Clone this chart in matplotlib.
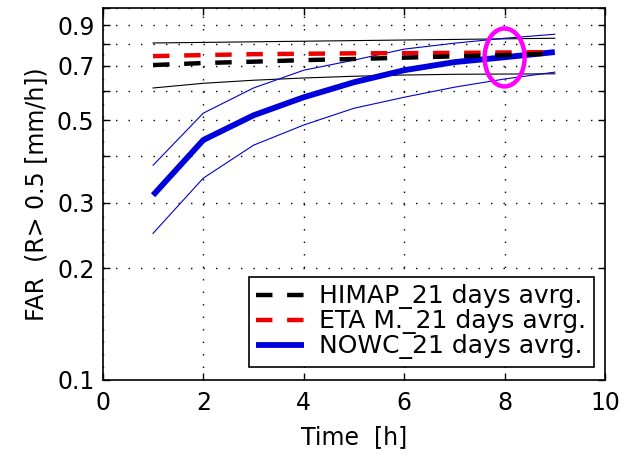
"""FAR vs lead time, log-scale y, MATLAB-like styling."""

import matplotlib.pyplot as plt
import matplotlib.transforms as mtransforms
from matplotlib.patches import Ellipse
from matplotlib.ticker import FixedLocator, NullLocator

plt.rcParams.update({
    "font.family": ["DejaVu Sans"],
    "figure.facecolor": "white",
    "axes.facecolor": "white",
    "axes.edgecolor": "black",
    "text.color": "black",
    "xtick.color": "black",
    "ytick.color": "black",
})

# ---------------------------------------------------------------------------
# Data
# ---------------------------------------------------------------------------
hours = [1, 2, 3, 4, 5, 6, 7, 8, 9]

himap_avg = [0.703, 0.712, 0.718, 0.725, 0.730, 0.736, 0.742, 0.748, 0.755]
himap_upper = [0.806, 0.809, 0.812, 0.815, 0.818, 0.821, 0.824, 0.827, 0.830]
himap_lower = [0.610, 0.628, 0.640, 0.649, 0.656, 0.661, 0.664, 0.665, 0.666]

eta_avg = [0.743, 0.748, 0.752, 0.754, 0.756, 0.757, 0.758, 0.760, 0.762]

nowc_avg = [0.314, 0.442, 0.515, 0.576, 0.632, 0.681, 0.716, 0.738, 0.762]
nowc_upper = [0.378, 0.522, 0.610, 0.681, 0.725, 0.776, 0.805, 0.830, 0.851]
nowc_lower = [0.248, 0.349, 0.428, 0.485, 0.538, 0.576, 0.613, 0.645, 0.673]

y_ticks = [0.1, 0.2, 0.3, 0.4, 0.5, 0.6, 0.7, 0.8, 0.9, 1.0]
y_tick_labels = ["0.1", "0.2", "0.3", "", "0.5", "", "0.7", "", "0.9", ""]
x_ticks = [0, 2, 4, 6, 8, 10]

# highlighted point (magenta ring)
mark_x, mark_y = 8.0, 0.737

# ---------------------------------------------------------------------------
fig = plt.figure(figsize=(6.27, 4.54), dpi=100)
ax = fig.add_axes([0.164, 0.163, 0.801, 0.819])
ax.set_yscale("log")

# spread lines
ax.plot(hours, himap_upper, color="black", lw=0.8)
ax.plot(hours, himap_lower, color="black", lw=0.8)
ax.plot(hours, nowc_upper, color="#0000cc", lw=0.8)
ax.plot(hours, nowc_lower, color="#0000cc", lw=0.8)

# averages
ax.plot(hours, nowc_avg, color="#0000dd", lw=4.2, solid_capstyle="butt",
        label="NOWC_21 days avrg.")
ax.plot(hours, eta_avg, color="#ee0000", lw=3.2, dashes=(3.7, 3.3),
        label="ETA M._21 days avrg.")
ax.plot(hours, himap_avg, color="black", lw=3.2, dashes=(3.7, 3.3),
        label="HIMAP_21 days avrg.")

ax.set_xlim(0, 10)
ax.set_ylim(0.1, 1.0)

ax.yaxis.set_major_locator(FixedLocator(y_ticks))
ax.yaxis.set_minor_locator(NullLocator())
ax.set_yticklabels(y_tick_labels)
ax.set_xticks(x_ticks)

ax.tick_params(axis="both", which="both", direction="in", top=True, right=True,
               length=5, width=1, labelsize=17)
ax.tick_params(axis="x", pad=8)
ax.tick_params(axis="y", pad=6)

ax.grid(True, color="black", linestyle=(0, (1, 8)), linewidth=1)
for sp in ax.spines.values():
    sp.set_linewidth(1.2)

ax.set_xlabel("Time  [h]", fontsize=17, labelpad=7)
ax.set_ylabel("FAR  (R> 0.5 [mm/h])", fontsize=17, labelpad=6)

# legend in the order of the reference
handles, labels = ax.get_legend_handles_labels()
order = [2, 1, 0]
leg = ax.legend([handles[i] for i in order], [labels[i] for i in order],
                loc="lower right", bbox_to_anchor=(0.977, 0.035),
                borderaxespad=0, fontsize=18, fancybox=False, framealpha=1,
                handlelength=1.9, handletextpad=0.6, labelspacing=0.0,
                borderpad=0.3)
leg.get_frame().set_edgecolor("black")
leg.get_frame().set_linewidth(1.2)

# magenta ring around the crossing point
trans = fig.dpi_scale_trans + mtransforms.ScaledTranslation(mark_x, mark_y, ax.transData)
ring = Ellipse((0, 0), 0.40, 0.58, transform=trans, fill=False,
               edgecolor="#ff00ff", linewidth=3.2, zorder=10)
ax.add_patch(ring)

plt.savefig("out.png", dpi=100)
